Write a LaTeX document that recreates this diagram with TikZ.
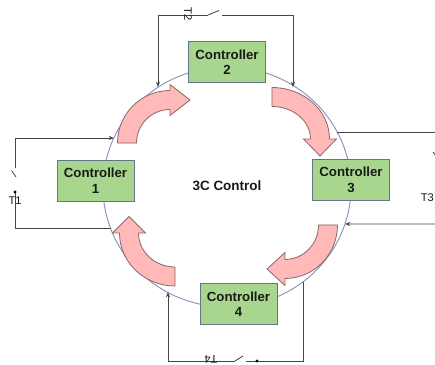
\documentclass[tikz,border=0pt]{standalone}
\usepackage{fontspec}
\setmainfont{Liberation Sans}
\usetikzlibrary{arrows.meta}
\definecolor{boxfill}{RGB}{169,214,142}
\definecolor{boxdraw}{RGB}{100,115,135}
\definecolor{arrowfill}{RGB}{255,185,185}
\definecolor{arrowdraw}{RGB}{140,105,105}
\definecolor{ringc}{RGB}{140,145,185}
\definecolor{wirec}{RGB}{70,70,70}
\definecolor{txt}{RGB}{25,25,25}
\begin{document}
\begin{tikzpicture}[x=0.03cm,y=-0.03cm,
  ctrl/.style={draw=boxdraw,fill=boxfill,line width=0.8pt,minimum width=2.31cm,minimum height=1.23cm,inner sep=0pt,align=center,font=\bfseries\fontsize{11.3}{13.3}\selectfont,text=txt},
  centrelabel/.style={font=\bfseries\fontsize{11.5}{13}\selectfont,text=txt,inner sep=0pt},
  wire/.style={draw=wirec,line width=0.7pt},
  tip/.style={-{Stealth[length=4.5pt,width=3.5pt]}},
  bigarrow/.style={fill=arrowfill,draw=arrowdraw,line width=0.7pt,line join=miter},
  ring/.style={draw=ringc,line width=0.8pt},
  tlabel/.style={font=\fontsize{9.5}{10}\selectfont,inner sep=0pt,text=txt},
  contact/.style={fill=black}]
\useasboundingbox (0,0) rectangle (435,365);
\clip (0,0) rectangle (435,365);
\fill[white] (0,0) rectangle (435,365);
% ring
\draw[ring] (227,187) ellipse [x radius=3.72cm, y radius=3.6cm];
% top loop (T2)
\coordinate (t1) at (158,87);
\coordinate (t2) at (158,15);
\coordinate (t3) at (293,15);
\coordinate (t4) at (293,87);
\coordinate (s2a) at (208,15);
\coordinate (s2b) at (219,10.5);
\coordinate (s2c) at (222,15);
\draw[wire,tip] (s2a) -- (t2) -- (t1);
\draw[wire] (s2a) -- (s2b);
\draw[wire,tip] (s2c) -- (t3) -- (t4);
\node[tlabel,rotate=-90] (lt2) at (188,14) {T2};
% left loop (T1)
\coordinate (l1) at (114,138);
\coordinate (l2) at (15,138);
\coordinate (l3) at (15,228);
\coordinate (l4) at (110.5,228);
\coordinate (s1a) at (15,168);
\coordinate (s1b) at (11.5,170.5);
\coordinate (s1c) at (16,177);
\coordinate (s1d) at (15,192);
\draw[wire,tip] (s1a) -- (l2) -- (l1);
\draw[wire] (s1b) -- (s1c);
\draw[wire] (s1d) -- (l3) -- (l4);
\fill[contact] (s1d) circle (1.4pt);
\node[tlabel] (lt1) at (15,201) {T1};
% right loop (T3)
\coordinate (r1) at (337,132);
\coordinate (r2) at (438,132);
\coordinate (r3) at (438,224);
\coordinate (r4) at (345,224);
\coordinate (s3a) at (438,150);
\coordinate (s3b) at (433,152);
\coordinate (s3c) at (439,160);
\coordinate (s3d) at (437,172);
\draw[wire] (r1) -- (r2) -- (s3a);
\draw[wire] (s3b) -- (s3c);
\fill[contact] (s3d) circle (1.4pt);
\draw[wire,tip] (s3d) -- (r3) -- (r4);
\node[tlabel,anchor=east] (lt3) at (434,198) {T3};
% bottom loop (T4)
\coordinate (b1) at (168,292);
\coordinate (b2) at (168,361);
\coordinate (b3) at (303,361);
\coordinate (b4) at (303,282);
\coordinate (s4a) at (235,361);
\coordinate (s4b) at (243,356);
\coordinate (s4c) at (246,361);
\coordinate (s4d) at (257,361);
\draw[wire,tip] (s4a) -- (b2) -- (b1);
\draw[wire] (s4a) -- (s4b);
\draw[wire] (s4c) -- (b3) -- (b4);
\fill[contact] (s4d) circle (1.4pt);
\node[tlabel,rotate=180] (lt4) at (211,359) {T4};
% curved arrows
\path[bigarrow] (117.5,143) arc[start angle=180,end angle=90,radius=1.575cm]
  -- (170,84.5) -- (190,100) -- (170,115.5) -- (170,109.5)
  arc[start angle=90,end angle=180,radius=1.005cm] -- cycle;
\path[bigarrow] (272,87.5) arc[start angle=90,end angle=0,x radius=1.725cm,y radius=1.545cm]
  -- (336.5,139) -- (320,156) -- (303.5,139) -- (310.5,139)
  arc[start angle=0,end angle=90,x radius=1.155cm,y radius=0.975cm] -- cycle;
\path[bigarrow] (337.5,225) arc[start angle=0,end angle=-90,x radius=1.575cm,y radius=1.605cm]
  -- (285,285.5) -- (267,269) -- (285,252.5) -- (285,259.5)
  arc[start angle=-90,end angle=0,x radius=1.005cm,y radius=1.035cm] -- cycle;
\path[bigarrow] (175,286) arc[start angle=-90,end angle=-180,x radius=1.665cm,y radius=1.59cm]
  -- (112.5,233) -- (129,216.5) -- (145.5,233) -- (138.5,233)
  arc[start angle=180,end angle=270,x radius=1.095cm,y radius=1.02cm] -- cycle;
% controllers
\node[ctrl] (c1) at (95.5,180.5) {Controller\\1};
\node[ctrl] (c2) at (227,62) {Controller\\2};
\node[ctrl] (c3) at (351,180) {Controller\\3};
\node[ctrl] (c4) at (238.5,304) {Controller\\4};
\node[centrelabel] (cc) at (227,186) {3C Control};
\end{tikzpicture}
\end{document}
